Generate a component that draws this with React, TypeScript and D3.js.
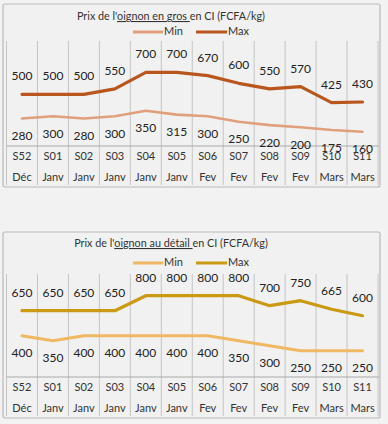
import React from "react";
import * as d3 from "d3";

const weeks = ["S52", "S01", "S02", "S03", "S04", "S05", "S06", "S07", "S08", "S09", "S10", "S11"];
const months = ["Déc", "Janv", "Janv", "Janv", "Janv", "Janv", "Fev", "Fev", "Fev", "Fev", "Mars", "Mars"];
const grosMin = [280, 300, 280, 300, 350, 315, 300, 250, 220, 200, 175, 160];
const grosMax = [500, 500, 500, 550, 700, 700, 670, 600, 550, 570, 425, 430];
const detailMin = [400, 350, 400, 400, 400, 400, 400, 350, 300, 250, 250, 250];
const detailMax = [650, 650, 650, 650, 800, 800, 800, 800, 700, 750, 665, 600];
const legendLabels = ["Min", "Max"];

const FONT = "Lato, 'Open Sans', sans-serif";

type ChartProps = {
  top: number;
  height: number;
  titlePre: string;
  titleU: string;
  titlePost: string;
  minVals: number[];
  maxVals: number[];
  minColor: string;
  maxColor: string;
  minWidth: number;
  maxWidth: number;
  titleDy: number;
  legendDy: number;
  gridDy: number;
  axisDy: number;
  zeroDy: number;
  pxPerUnit: number;
};

function Chart(p: ChartProps) {
  const left = 3;
  const right = 380;
  const plotL = 6.5;
  const plotR = 378;
  const x = d3.scaleBand<number>().domain(d3.range(weeks.length)).range([plotL, plotR]);
  const zeroY = p.top + p.zeroDy;
  const y = d3.scaleLinear().domain([0, 1000]).range([zeroY, zeroY - 1000 * p.pxPerUnit]);
  const cx = (i: number) => (x(i) as number) + x.bandwidth() / 2;
  const line = d3.line<number>().x((_, i) => cx(i)).y((v) => y(v));
  const gridTop = p.top + p.gridDy;
  const gridBottom = p.top + p.height - 2;
  const axisY = p.top + p.axisDy;
  const legY = p.top + p.legendDy;
  const bounds = d3.range(weeks.length + 1).map((i) => plotL + i * x.bandwidth());
  return (
    <g>
      <rect x={left} y={p.top} width={right - left} height={p.height} fill="#f1f1f1" stroke="#b9b9b9" strokeWidth={1.2} rx={2} />
      {bounds.map((bx, i) => (
        <line key={i} x1={bx} x2={bx} y1={gridTop} y2={gridBottom} stroke="#c4c4c4" strokeWidth={1} />
      ))}
      <line x1={plotL} x2={plotR + 1} y1={axisY} y2={axisY} stroke="#a9a9a9" strokeWidth={1.2} />
      <text x={171} y={p.top + p.titleDy} textAnchor="middle" dominantBaseline="middle" fontFamily={FONT} fontSize={10.8} fill="#333">
        {p.titlePre}
        <tspan textDecoration="underline">{p.titleU}</tspan>
        {p.titlePost}
      </text>
      <line x1={133} x2={163} y1={legY} y2={legY} stroke={p.minColor} strokeWidth={3} />
      <text x={164} y={legY} dominantBaseline="middle" fontFamily={FONT} fontSize={11} fill="#333">{legendLabels[0]}</text>
      <line x1={196} x2={227} y1={legY} y2={legY} stroke={p.maxColor} strokeWidth={3} />
      <text x={228} y={legY} dominantBaseline="middle" fontFamily={FONT} fontSize={11} fill="#333">{legendLabels[1]}</text>
      <path d={line(p.minVals) || ""} fill="none" stroke={p.minColor} strokeWidth={p.minWidth} strokeLinejoin="round" strokeLinecap="round" />
      <path d={line(p.maxVals) || ""} fill="none" stroke={p.maxColor} strokeWidth={p.maxWidth} strokeLinejoin="round" strokeLinecap="round" />
      {p.maxVals.map((v, i) => (
        <text key={"mx" + i} x={cx(i)} y={y(v) - 17} textAnchor="middle" dominantBaseline="middle" fontFamily={FONT} fontSize={12} fill="#222">{v}</text>
      ))}
      {p.minVals.map((v, i) => (
        <text key={"mn" + i} x={cx(i)} y={y(v) + 18.5} textAnchor="middle" dominantBaseline="middle" fontFamily={FONT} fontSize={12} fill="#222">{v}</text>
      ))}
      {weeks.map((w, i) => (
        <text key={"w" + i} x={cx(i)} y={axisY + 11} textAnchor="middle" dominantBaseline="middle" fontFamily={FONT} fontSize={11} fill="#333">{w}</text>
      ))}
      {months.map((m, i) => (
        <text key={"m" + i} x={cx(i)} y={axisY + 32} textAnchor="middle" dominantBaseline="middle" fontFamily={FONT} fontSize={11} fill="#333">{m}</text>
      ))}
    </g>
  );
}

export default function App() {
  return (
    <div style={{ position: "absolute", left: 0, top: 0 }}>
      <svg width={388} height={424} style={{ display: "block" }}>
        <rect x={0} y={0} width={388} height={424} fill="#f2f2f2" />
        <Chart
          top={4}
          height={183}
          titlePre="Prix de l'"
          titleU="oignon en gros "
          titlePost="en CI (FCFA/kg)"
          minVals={grosMin}
          maxVals={grosMax}
          minColor="#e0a07c"
          maxColor="#b9561e"
          minWidth={2.6}
          maxWidth={3.2}
          titleDy={13}
          legendDy={28}
          gridDy={37}
          axisDy={142}
          zeroDy={145.3}
          pxPerUnit={0.11}
        />
        <Chart
          top={232}
          height={186}
          titlePre="Prix de l'"
          titleU="oignon au détail "
          titlePost="en CI (FCFA/kg)"
          minVals={detailMin}
          maxVals={detailMax}
          minColor="#f0b862"
          maxColor="#c99a12"
          minWidth={3}
          maxWidth={3.2}
          titleDy={12}
          legendDy={31}
          gridDy={42}
          axisDy={145}
          zeroDy={143.7}
          pxPerUnit={0.1}
        />
      </svg>
    </div>
  );
}
